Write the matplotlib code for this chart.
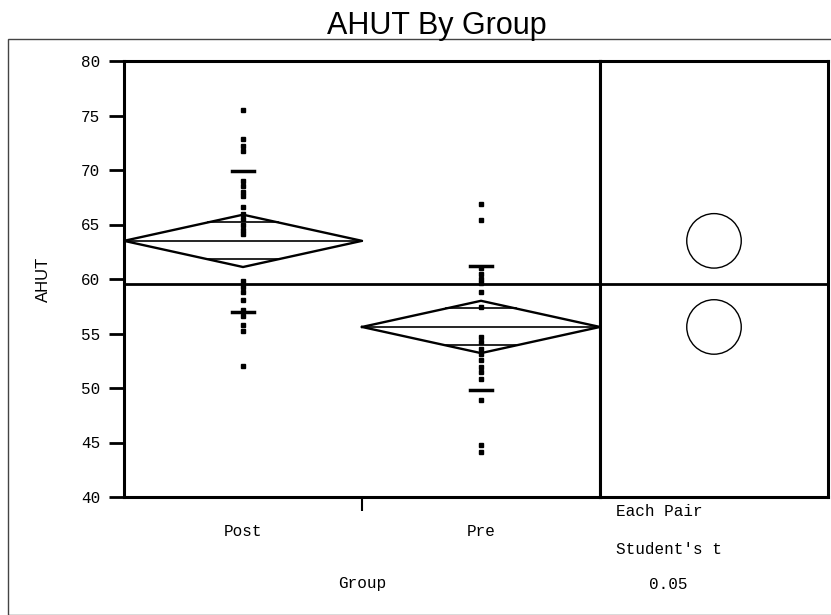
import numpy as np
import matplotlib.pyplot as plt
from matplotlib.patches import Circle, Rectangle

# --- data ---
groups = ["Post", "Pre"]
post_vals = [75.5, 72.8, 72.2, 71.7, 69.0, 68.5, 68.0, 67.6, 66.6, 66.0,
             65.5, 65.0, 64.5, 64.1, 59.8, 59.3, 58.8, 58.1, 57.2, 56.6,
             55.8, 55.2, 52.0]
pre_vals = [66.9, 65.4, 61.0, 60.5, 60.0, 59.6, 58.8, 57.4, 54.7, 54.2,
            53.6, 53.1, 52.6, 51.9, 51.5, 50.8, 48.9, 44.8, 44.1]
means = [63.5, 55.6]
ci_upper = [65.9, 58.0]
ci_lower = [61.1, 53.2]
sd_upper = [69.9, 61.2]
sd_lower = [57.0, 49.8]
grand_mean = 59.5
circle_radius = [2.5, 2.5]
y_ticks = [40, 45, 50, 55, 60, 65, 70, 75, 80]

W, H = 831, 615
fig = plt.figure(figsize=(W / 100, H / 100), dpi=100)

mono = "Liberation Mono"

# outer frame
fig.patches.append(Rectangle((8 / W, 0), 1.2, 1 - 39 / H, transform=fig.transFigure,
                             fill=False, lw=1.0, ec="#444444"))

left, div, right = 124, 600, 828
top, bottom = 61, 497
ax = fig.add_axes([left / W, 1 - bottom / H, (div - left) / W, (bottom - top) / H])
ax2 = fig.add_axes([div / W, 1 - bottom / H, (right - div) / W, (bottom - top) / H])

# --- main panel: points, diamonds, sd marks ---
for i, vals in enumerate([post_vals, pre_vals]):
    cx = i + 0.5
    ax.plot([cx] * len(vals), vals, ls="none", marker="s", ms=2.8, color="black")
    m, hi, lo = means[i], ci_upper[i], ci_lower[i]
    ax.plot([i, cx, i + 1, cx, i], [m, hi, m, lo, m], color="black", lw=1.7)
    ax.plot([i, i + 1], [m, m], color="black", lw=1.2)
    # overlap marks
    half = hi - m
    off = half / np.sqrt(2)
    frac = (1 - off / half) * 0.5
    for y in (m + off, m - off):
        ax.plot([cx - frac, cx + frac], [y, y], color="black", lw=1.2)
    # std dev marks
    for y in (sd_upper[i], sd_lower[i]):
        ax.plot([cx - 0.045, cx + 0.045], [y, y], color="black", lw=2.5)

ax.axhline(grand_mean, color="black", lw=2)
ax.set_xlim(0, 2)
ax.set_ylim(40, 80)
ax.set_yticks(y_ticks)
ax.set_yticklabels([str(t) for t in y_ticks], fontfamily=mono, fontsize=11.5)
ax.set_xticks([1])
ax.set_xticklabels([""])
ax.tick_params(axis="y", length=11, width=2, pad=6)
ax.tick_params(axis="x", length=10, width=1.5)
for s in ax.spines.values():
    s.set_linewidth(2.2)
ax.set_ylabel("AHUT", fontfamily="Liberation Sans", fontsize=12, labelpad=22)

for i, g in enumerate(groups):
    ax.text(i + 0.5, -0.08, g, transform=ax.get_xaxis_transform(),
            ha="center", va="center", fontfamily=mono, fontsize=11.5)
ax.text(1.0, -0.198, "Group", transform=ax.get_xaxis_transform(),
        ha="center", va="center", fontfamily=mono, fontsize=11.5)

# --- right panel: comparison circles ---
x_span = 40 * (right - div) / (bottom - top)
ax2.set_xlim(0, x_span)
ax2.set_ylim(40, 80)
ax2.set_xticks([])
ax2.set_yticks([])
for s in ax2.spines.values():
    s.set_linewidth(2.2)
ax2.axhline(grand_mean, color="black", lw=2)
for m, r in zip(means, circle_radius):
    ax2.add_patch(Circle((x_span * 0.5, m), r, fill=False, lw=1.0, ec="black"))

ax2.text(16 / (right - div), -0.033, "Each Pair", transform=ax2.transAxes,
         ha="left", va="center", fontfamily=mono, fontsize=11.5)
ax2.text(16 / (right - div), -0.12, "Student's t", transform=ax2.transAxes,
         ha="left", va="center", fontfamily=mono, fontsize=11.5)
ax2.text(68 / (right - div), -0.2, "0.05", transform=ax2.transAxes,
         ha="center", va="center", fontfamily=mono, fontsize=11.5)

fig.text(437 / W, 1 - 26 / H, "AHUT By Group", ha="center", va="center",
         fontfamily="Liberation Sans", fontsize=22)

fig.savefig("out.png", dpi=100)
